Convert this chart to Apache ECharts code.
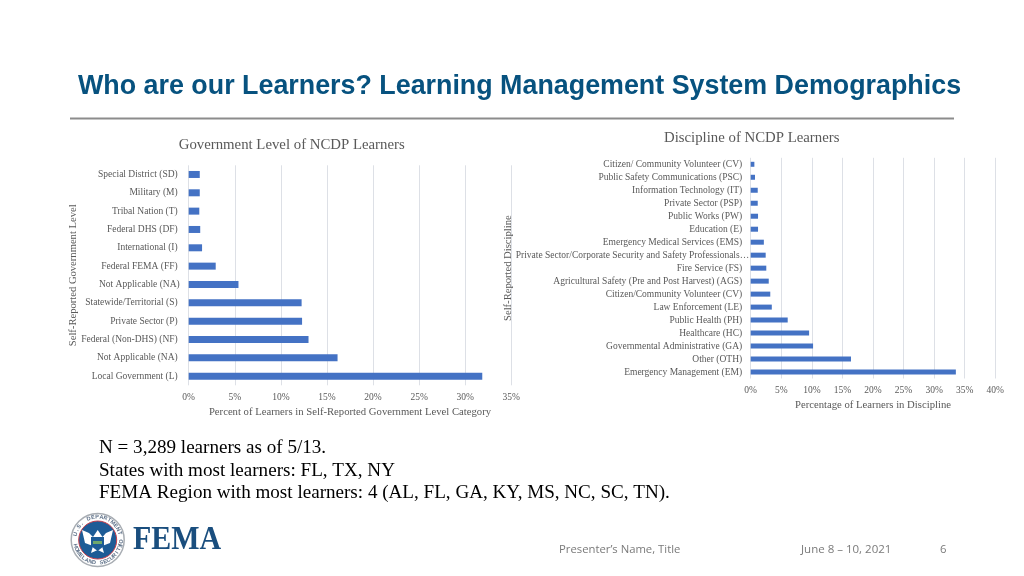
<!DOCTYPE html>
<html><head><meta charset="utf-8">
<style>html,body{margin:0;padding:0;background:#fff}#c{width:1024px;height:576px}</style>
<script src="https://cdn.jsdelivr.net/npm/echarts@6/dist/echarts.min.js"></script>
</head><body><div id="c"></div>
<script>
const govCategories = ["Local Government (L)","Not Applicable (NA)","Federal (Non-DHS) (NF)","Private Sector (P)","Statewide/Territorial (S)","Not Applicable (NA)","Federal FEMA (FF)","International (I)","Federal DHS (DF)","Tribal Nation (T)","Military (M)","Special District (SD)"];
const govValues = [31.85,16.15,13.0,12.3,12.25,5.4,2.93,1.45,1.25,1.15,1.2,1.2];
const discCategories = ["Emergency Management (EM)","Other (OTH)","Governmental Administrative (GA)","Healthcare (HC)","Public Health (PH)","Law Enforcement (LE)","Citizen/Community Volunteer (CV)","Agricultural Safety (Pre and Post Harvest) (AGS)","Fire Service (FS)","Private Sector/Corporate Security and Safety Professionals…","Emergency Medical Services (EMS)","Education (E)","Public Works (PW)","Private Sector (PSP)","Information Technology (IT)","Public Safety Communications (PSC)","Citizen/ Community Volunteer (CV)"];
const discValues = [33.55,16.4,10.2,9.55,6.05,3.45,3.2,2.95,2.55,2.45,2.15,1.2,1.2,1.15,1.15,0.7,0.6];
const notes = ["N = 3,289 learners as of 5/13.","States with most learners: FL, TX, NY","FEMA Region with most learners: 4 (AL, FL, GA, KY, MS, NC, SC, TN)."];
const pageTitle = "Who are our Learners? Learning Management System Demographics";

const serif = '"Liberation Serif"', grey = '#595959', grid = '#DDE0E6', blue = '#4472C4';
const chart = echarts.init(document.getElementById('c'), null, {renderer:'canvas'});
const xAxis = (i,max,name,gap) => ({gridIndex:i,type:'value',min:0,max,interval:5,
  name,nameLocation:'middle',nameGap:gap,nameMoveOverlap:false,nameTextStyle:{fontFamily:serif,fontSize:10.7,color:grey},
  axisLine:{show:false},axisTick:{show:false},
  axisLabel:{fontFamily:serif,fontSize:9.5,color:grey,margin:7,formatter:'{value}%'},
  splitLine:{show:true,lineStyle:{color:grid,width:1}}});
const yAxis = (i,data,name,gap,margin) => ({gridIndex:i,type:'category',data,
  name,nameLocation:'middle',nameGap:gap,nameMoveOverlap:false,nameTextStyle:{fontFamily:serif,fontSize:10.6,color:grey},
  axisLine:{show:false},axisTick:{show:false},
  axisLabel:{fontFamily:serif,fontSize:9.5,color:grey,margin,interval:0,hideOverlap:false},
  splitLine:{show:false}});
const shifted = (cats,index,px) => cats.map((c,i) => i===index ? {value:c,textStyle:{padding:[0,-px,0,0]}} : c);
const txt = (x,y,text,font,fill,extra) => ({type:'text',x,y,silent:true,style:Object.assign({text,font,fill,textVerticalAlign:'middle'},extra||{})});
const ring = (cx,cy,r,fill,stroke,lw) => ({type:'circle',silent:true,shape:{cx,cy,r},style:{fill,stroke,lineWidth:lw||1}});

// FEMA seal lettering, a decoration around the logo ring
const sealCx=97.7, sealCy=540, sealR=23;
const sealLetters=[];
const topText='U.S. DEPARTMENT OF', botText='HOMELAND SECURITY';
[...topText].forEach((ch,i)=>{const a=-Math.PI*0.92+i*(Math.PI*1.0/(topText.length-1));
  sealLetters.push({type:'text',silent:true,x:sealCx+sealR*Math.cos(a),y:sealCy+sealR*Math.sin(a),rotation:-(a+Math.PI/2),
    style:{text:ch,font:'bold 5.5px "Liberation Sans"',fill:'#5C6F87',textAlign:'center',textVerticalAlign:'middle'}});});
[...botText].forEach((ch,i)=>{const a=Math.PI*0.92-i*(Math.PI*0.84/(botText.length-1));
  sealLetters.push({type:'text',silent:true,x:sealCx+sealR*Math.cos(a),y:sealCy+sealR*Math.sin(a),rotation:-(a-Math.PI/2),
    style:{text:ch,font:'bold 5.5px "Liberation Sans"',fill:'#5C6F87',textAlign:'center',textVerticalAlign:'middle'}});});

chart.setOption({
  animation:false,backgroundColor:'#fff',
  grid:[{left:188.7,top:165.3,width:322.6,height:220,containLabel:false},
        {left:750.7,top:157.8,width:244.6,height:220.7,containLabel:false}],
  xAxis:[xAxis(0,35,'Percent of Learners in Self-Reported Government Level Category',21.5),
         xAxis(1,40,'Percentage of Learners in Discipline',21.5)],
  yAxis:[yAxis(0,shifted(govCategories,5,2),'Self-Reported Government Level',109.5,11),
         yAxis(1,shifted(discCategories,9,7),'Self-Reported Discipline',236.5,8.5)],
  series:[{type:'bar',xAxisIndex:0,yAxisIndex:0,data:govValues,barWidth:7,itemStyle:{color:blue},silent:true},
          {type:'bar',xAxisIndex:1,yAxisIndex:1,data:discValues,barWidth:5,itemStyle:{color:blue},silent:true}],
  graphic:[
    txt(78,87,pageTitle,'bold 26.85px "Liberation Sans"','#07527F'),
    {type:'line',silent:true,shape:{x1:70,y1:118.5,x2:954,y2:118.5},style:{stroke:'#8C8C8C',lineWidth:2}},
    txt(291.7,145,'Government Level of NCDP Learners','14.8px '+serif,grey,{textAlign:'center'}),
    txt(751.7,138,'Discipline of NCDP Learners','14.8px '+serif,grey,{textAlign:'center'}),
    txt(99,448,notes[0],'19.1px '+serif,'#000'),
    txt(99,471,notes[1],'19.1px '+serif,'#000'),
    txt(99,493,notes[2],'19.1px '+serif,'#000'),
    txt(559,549.5,'Presenter’s Name, Title','11.3px "Open Sans"','#7A7A7A'),
    txt(801,549.5,'June 8 – 10, 2021','11.5px "Open Sans"','#7A7A7A'),
    txt(940,549.5,'6','11.3px "Open Sans"','#7A7A7A'),
    ring(97.7,540,26.5,'#fff','#A8ADB3',1.5),
    ring(97.7,540,19,'#1D5C96','#C8404C',1),
    {type:'polygon',silent:true,shape:{points:[[82,530],[89,533],[93,537],[97.7,530],[102.5,537],[106,533],[113,530],[110,543],[102,546],[104,553],[97.7,550],[91,553],[93,546],[85,543]]},style:{fill:'#fff'}},
    {type:'polygon',silent:true,shape:{points:[[91,537],[104,537],[104,546],[97.7,551],[91,546]]},style:{fill:'#1D5C96'}},
    {type:'rect',silent:true,shape:{x:93,y:541,width:9,height:3},style:{fill:'#6FA86B'}},
    ...sealLetters,
    {type:'text',silent:true,x:133,y:540.5,scaleX:0.894,style:{text:'FEMA',font:'bold 33.5px '+serif,fill:'#1A4E7E',textVerticalAlign:'middle'}}
  ]
});
</script></body></html>
